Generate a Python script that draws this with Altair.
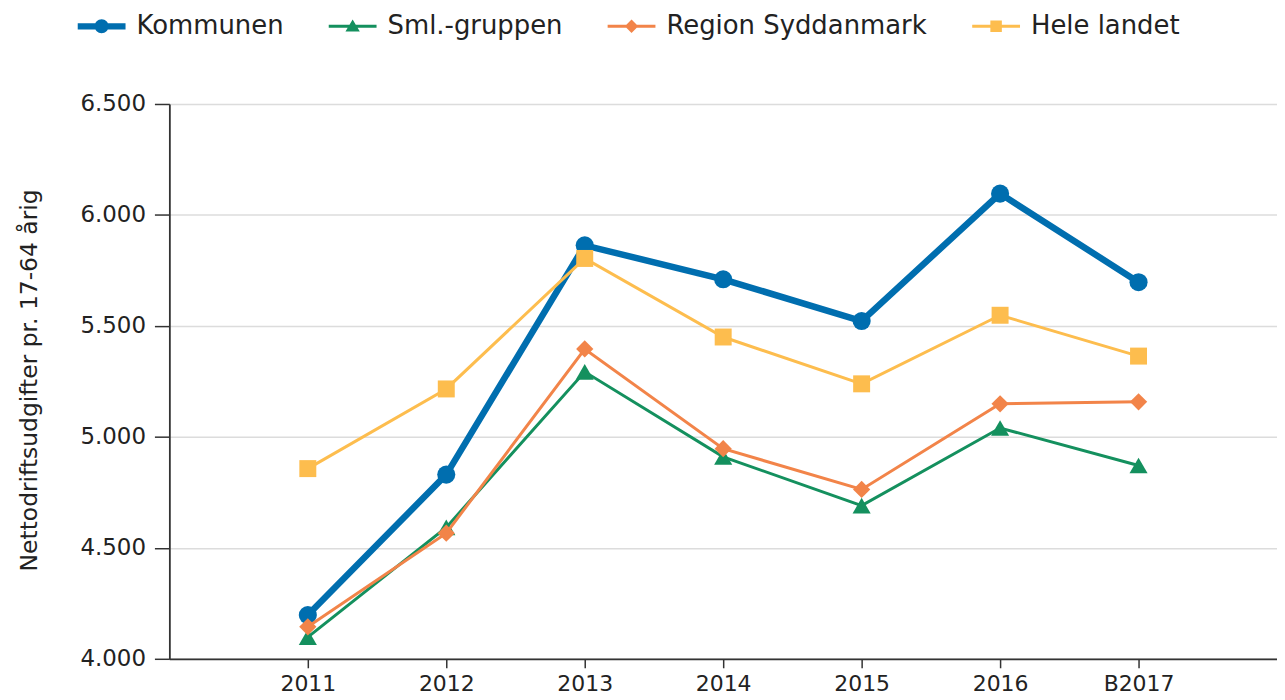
import altair as alt
import pandas as pd

years = ["2011", "2012", "2013", "2014", "2015", "2016", "B2017"]
series = ["Kommunen", "Sml.-gruppen", "Region Syddanmark", "Hele landet"]
kommunen = [4197, 4830, 5863, 5710, 5522, 6096, 5697]
sml = [4098, 4592, 5293, 4910, 4690, 5040, 4871]
region = [4144, 4566, 5396, 4947, 4763, 5149, 5158]
hele = [4857, 5216, 5804, 5450, 5239, 5548, 5364]
y_ticks = [4000, 4500, 5000, 5500, 6000, 6500]

colors = ["#006eaf", "#14905e", "#f28449", "#fdbd4e"]
shapes = ["circle", "triangle-up", "diamond", "square"]
sizes = [330, 330, 300, 290]
widths = [6.5, 3, 3, 3]
legend_paths = [
    "M-1,-0.13H1V0.13H-1Z M-0.29,0A0.29,0.29,0,1,1,0.29,0A0.29,0.29,0,1,1,-0.29,0Z",
    "M-1,-0.065H1V0.065H-1Z M0,-0.28L0.3,0.22H-0.3Z",
    "M-1,-0.065H1V0.065H-1Z M0,-0.28L0.28,0L0,0.28L-0.28,0Z",
    "M-1,-0.065H1V0.065H-1Z M-0.24,-0.24H0.24V0.24H-0.24Z",
]

values = [kommunen, sml, region, hele]
rows = []
for s, vals in zip(series, values):
    for yr, v in zip(years, vals):
        rows.append({"year": yr, "series": s, "value": v})
df = pd.DataFrame(rows)

FONT = "DejaVu Sans"

x_enc = alt.X(
    "year:N",
    scale=alt.Scale(type="point", domain=years, padding=1),
    axis=alt.Axis(
        title=None, labelAngle=0, labelFontSize=22, labelColor="#222",
        labelFont=FONT, tickSize=9, tickColor="#333", tickWidth=1.5,
        domainColor="#333", domainWidth=1.8, labelPadding=6, grid=False,
    ),
)
y_enc = alt.Y(
    "value:Q",
    scale=alt.Scale(domain=[4000, 6500], nice=False, zero=False),
    axis=alt.Axis(
        values=y_ticks,
        labelExpr="replace(format(datum.value, ','), ',', '.')",
        labelFontSize=23, labelColor="#222", labelFont=FONT,
        tickSize=15, tickColor="#333", tickWidth=1.5,
        domainColor="#333", domainWidth=1.8, labelPadding=9,
        grid=True, gridColor="#dcdcdc", gridWidth=1.5,
        title="Nettodriftsudgifter pr. 17-64 årig",
        titleFont=FONT, titleFontSize=23.5, titleFontWeight="normal",
        titleColor="#222", titleAngle=270, titleX=-140, titleY=277,
        titleAlign="center", titleBaseline="middle",
    ),
)

layers = []
for s, col, shp, sz, w in zip(series, colors, shapes, sizes, widths):
    base = alt.Chart(df).transform_filter(alt.datum.series == s)
    line = base.mark_line(strokeWidth=w, color=col).encode(x=x_enc, y=y_enc)
    pts = base.mark_point(filled=True, shape=shp, size=sz, opacity=1,
                          color=col).encode(x=x_enc, y=y_enc)
    layers += [line, pts]

legend_props = dict(
    title=None, orient="none", legendX=-92, legendY=-102, direction="horizontal",
    labelFont=FONT, labelFontSize=26, labelColor="#222", labelOffset=11,
    columnPadding=45, symbolSize=2304, symbolStrokeWidth=0, labelLimit=400,
    symbolOpacity=1,
)
legend_layer = alt.Chart(df).transform_filter("false").mark_point(
    filled=True, size=2304, opacity=1
).encode(
    x=x_enc, y=y_enc,
    color=alt.Color("series:N", scale=alt.Scale(domain=series, range=colors),
                    legend=alt.Legend(**legend_props)),
    shape=alt.Shape("series:N", scale=alt.Scale(domain=series, range=legend_paths),
                    legend=alt.Legend(**legend_props)),
)
layers.append(legend_layer)

chart = alt.layer(*layers).properties(
    width=1112, height=557,
    autosize=alt.AutoSizeParams(type="none"),
    padding={"left": 162, "top": 95, "right": 0, "bottom": 40},
    background="white",
).configure_view(stroke=None)

chart.save("out.html", embed_options={"renderer": "svg", "actions": False})
